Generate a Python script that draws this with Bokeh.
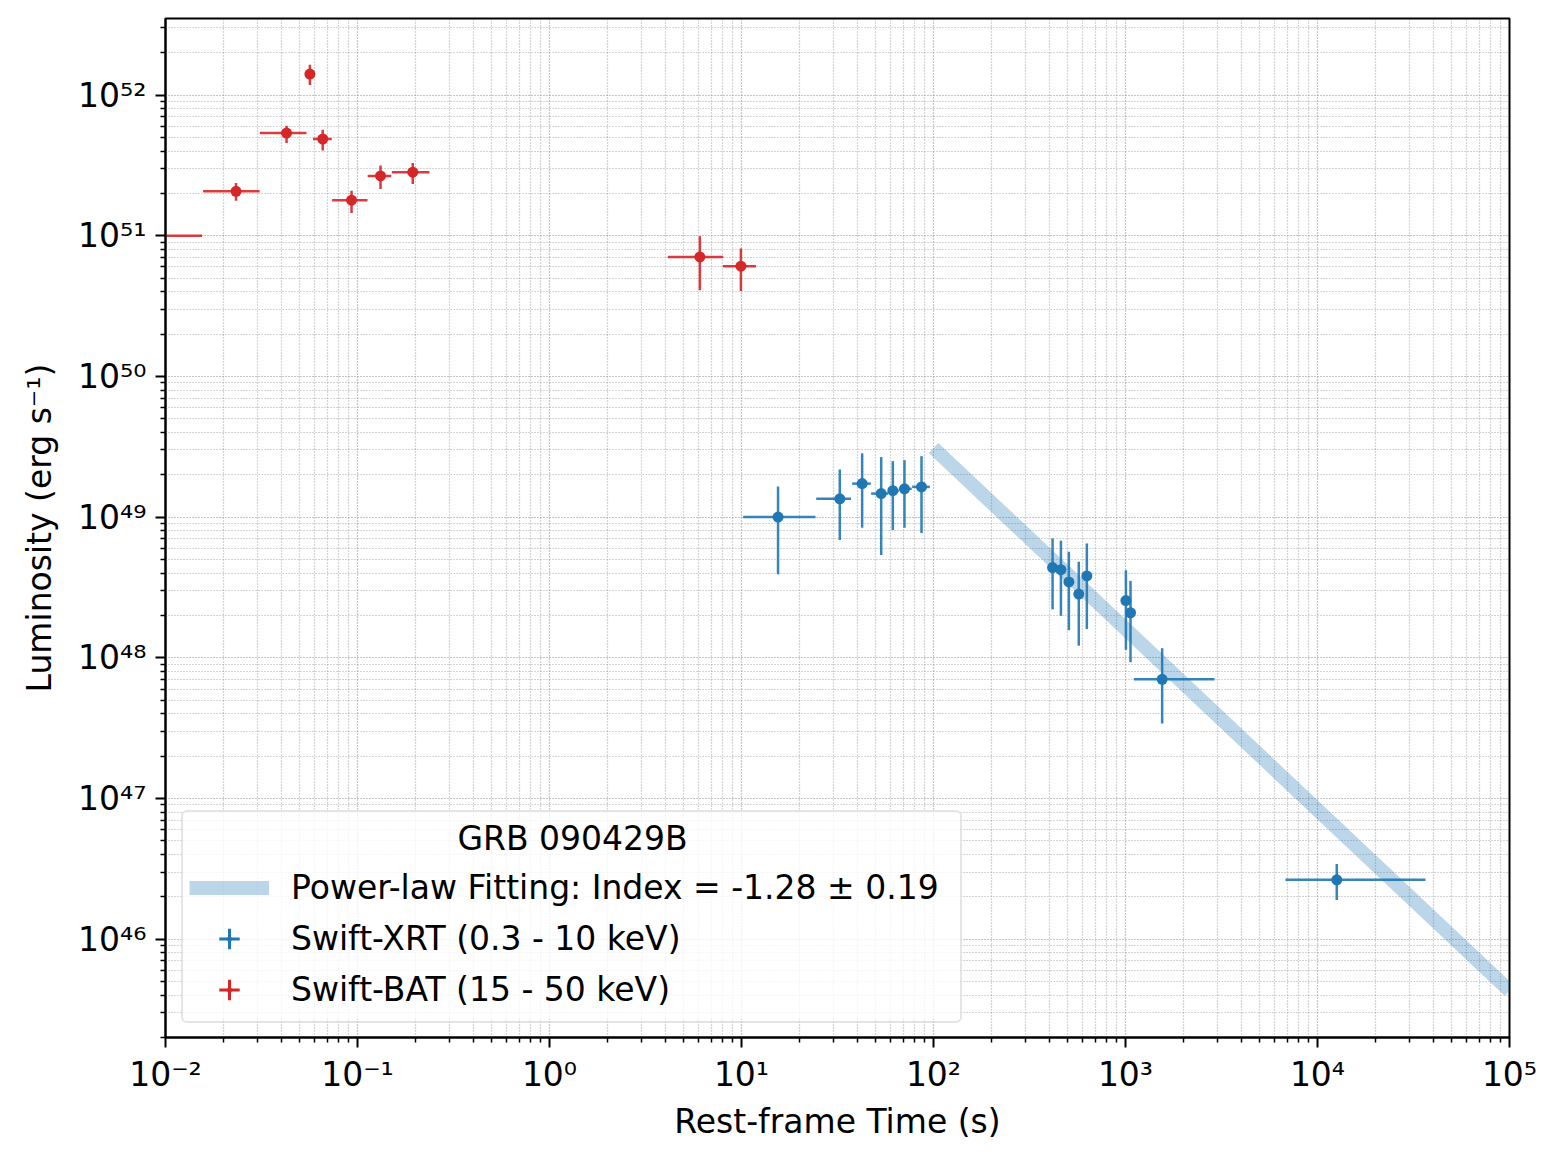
from bokeh.plotting import figure
from bokeh.models import (ColumnDataSource, FixedTicker, CustomJSTickFormatter,
                          Legend, LegendItem, Range1d, Label, BoxAnnotation)
from bokeh.embed import file_html
from bokeh.resources import INLINE

# ---------------- data ----------------
# Swift-BAT (15 - 50 keV)
bat_t    = [0.008, 0.0233, 0.0427, 0.0565, 0.0659, 0.0931, 0.1318, 0.194, 6.07, 9.93]
bat_t_lo = [0.004, 0.0157, 0.0310, 0.0565, 0.0587, 0.0738, 0.1130, 0.151, 4.13, 8.00]
bat_t_hi = [0.0155, 0.0309, 0.0542, 0.0565, 0.0734, 0.1127, 0.1500, 0.237, 8.03, 11.9]
bat_L    = [1.00e51, 2.07e51, 5.37e51, 1.41e52, 4.87e51, 1.79e51, 2.66e51, 2.83e51, 7.07e50, 6.07e50]
bat_L_lo = [7.70e50, 1.77e51, 4.56e51, 1.18e52, 4.03e51, 1.45e51, 2.15e51, 2.33e51, 4.10e50, 4.04e50]
bat_L_hi = [1.25e51, 2.37e51, 6.05e51, 1.64e52, 5.67e51, 2.09e51, 3.15e51, 3.29e51, 9.90e50, 8.10e50]

# Swift-XRT (0.3 - 10 keV)
xrt_t    = [15.5, 32.5, 42.5, 53.4, 61.4, 70.6, 86.6, 417, 461, 507, 571, 629, 1005, 1062, 1552, 12600]
xrt_t_lo = [10.2, 24.5, 37.7, 47.3, 58.0, 66.0, 77.4, 417, 461, 507, 571, 629, 1005, 1062, 1105, 6810]
xrt_t_hi = [24.3, 37.2, 47.2, 58.0, 66.0, 77.0, 95.7, 417, 461, 507, 571, 629, 1005, 1062, 2910, 36500]
xrt_L    = [1.00e49, 1.35e49, 1.73e49, 1.47e49, 1.54e49, 1.59e49, 1.64e49, 4.38e48, 4.23e48,
            3.46e48, 2.84e48, 3.82e48, 2.55e48, 2.09e48, 7.03e47, 2.64e46]
xrt_L_lo = [3.92e48, 6.88e48, 8.41e48, 5.38e48, 8.10e48, 8.40e48, 7.70e48, 2.21e48, 1.99e48,
            1.57e48, 1.22e48, 1.60e48, 1.14e48, 9.30e47, 3.41e47, 1.90e46]
xrt_L_hi = [1.65e49, 2.18e49, 2.84e49, 2.67e49, 2.50e49, 2.54e49, 2.71e49, 7.06e48, 6.80e48,
            5.67e48, 4.82e48, 6.50e48, 4.19e48, 3.52e48, 1.17e48, 3.42e46]

# Power-law fit (end points of the drawn model line)
fit_t = [1.0e2, 1.0e5]
fit_L = [3.1e49, 4.3e45]

x_major = [1e-2, 1e-1, 1e0, 1e1, 1e2, 1e3, 1e4, 1e5]
y_major = [1e46, 1e47, 1e48, 1e49, 1e50, 1e51, 1e52]
x_minor = [m * 10.0 ** k for k in range(-2, 5) for m in range(2, 10)]
y_minor = [m * 10.0 ** k for k in range(45, 53) for m in range(2, 10)]

legend_title = "GRB 090429B"
fit_label = "Power-law Fitting: Index = -1.28 \u00b1 0.19"
xrt_label = "Swift-XRT (0.3 - 10 keV)"
bat_label = "Swift-BAT (15 - 50 keV)"

BLUE = "#1f77b4"
RED = "#d62728"
FONT = "DejaVu Sans"
FS = "33px"

# ---------------- figure ----------------
p = figure(width=1542, height=1143, x_axis_type="log", y_axis_type="log",
           x_range=Range1d(1e-2, 1e5), y_range=Range1d(2.0e45, 3.5e52),
           output_backend="svg", toolbar_location=None,
           min_border_left=165, min_border_right=33, min_border_top=18, min_border_bottom=103)
p.background_fill_color = "white"
p.border_fill_color = "white"
p.outline_line_color = "black"
p.outline_line_width = 2

p.xaxis.ticker = FixedTicker(ticks=x_major, minor_ticks=x_minor)
p.yaxis.ticker = FixedTicker(ticks=y_major, minor_ticks=y_minor)

sup_js = """
const sup = {"-": "\\u207b", "0": "\\u2070", "1": "\\u00b9", "2": "\\u00b2", "3": "\\u00b3",
             "4": "\\u2074", "5": "\\u2075", "6": "\\u2076", "7": "\\u2077", "8": "\\u2078", "9": "\\u2079"};
const e = Math.round(Math.log10(tick));
return "10" + String(e).split("").map(c => sup[c]).join("");
"""
for ax in (p.xaxis, p.yaxis):
    ax.formatter = CustomJSTickFormatter(code=sup_js)
    ax.major_label_text_font = FONT
    ax.major_label_text_font_size = FS
    ax.major_label_text_color = "black"
    ax.axis_label_text_font = FONT
    ax.axis_label_text_font_size = FS
    ax.axis_label_text_font_style = "normal"
    ax.axis_label_text_color = "black"
    ax.axis_line_width = 2
    ax.axis_line_color = "black"
    ax.major_tick_line_width = 2
    ax.major_tick_out = 10
    ax.major_tick_in = 0
    ax.minor_tick_line_width = 1.5
    ax.minor_tick_out = 5
    ax.minor_tick_in = 0

p.xaxis.axis_label = "Rest-frame Time (s)"
p.yaxis.axis_label = "Luminosity (erg s\u207b\u00b9)"
p.xaxis.major_label_standoff = 7
p.yaxis.major_label_standoff = 9
p.xaxis.axis_label_standoff = 5
p.yaxis.axis_label_standoff = 16

for g in (p.xgrid, p.ygrid):
    g.grid_line_color = "gray"
    g.grid_line_alpha = 0.9
    g.grid_line_width = 1.2
    g.grid_line_dash = "1 2"
    g.minor_grid_line_color = "gray"
    g.minor_grid_line_alpha = 0.65
    g.minor_grid_line_width = 1.2
    g.minor_grid_line_dash = "1 2"

# translucent legend background (drawn beneath the legend title text)
box_kw = dict(left=16, right=796, bottom=18, top=228,
              left_units="screen", right_units="screen", top_units="screen", bottom_units="screen",
              fill_color="white", fill_alpha=0.8, line_alpha=0.0, level="underlay")
if "border_radius" in BoxAnnotation.properties():
    box_kw["border_radius"] = 6
p.add_layout(BoxAnnotation(**box_kw))

# ---------------- sources ----------------
bat_src = ColumnDataSource(dict(t=bat_t, tlo=bat_t_lo, thi=bat_t_hi, L=bat_L, Llo=bat_L_lo, Lhi=bat_L_hi))
xrt_src = ColumnDataSource(dict(t=xrt_t, tlo=xrt_t_lo, thi=xrt_t_hi, L=xrt_L, Llo=xrt_L_lo, Lhi=xrt_L_hi))
fit_src = ColumnDataSource(dict(t=fit_t, L=fit_L))

fit_r = p.line("t", "L", source=fit_src, line_color=BLUE, line_alpha=0.3, line_width=14)

for src, col in ((xrt_src, BLUE), (bat_src, RED)):
    p.segment(x0="t", x1="t", y0="Llo", y1="Lhi", source=src, line_color=col, line_width=2.5, line_alpha=0.9)
    p.segment(x0="tlo", x1="thi", y0="L", y1="L", source=src, line_color=col, line_width=2.5, line_alpha=0.9)
    p.scatter("t", "L", source=src, marker="circle", size=11, fill_color=col, line_color=col, line_width=0)

# legend-only glyphs (errorbar icons)
xrt_cross = p.scatter("t", "L", source=xrt_src, marker="cross", line_color=BLUE, line_width=3, visible=False)
xrt_dot = p.scatter("t", "L", source=xrt_src, marker="dot", line_color=BLUE, fill_color=BLUE, visible=False)
bat_cross = p.scatter("t", "L", source=bat_src, marker="cross", line_color=RED, line_width=3, visible=False)
bat_dot = p.scatter("t", "L", source=bat_src, marker="dot", line_color=RED, fill_color=RED, visible=False)

legend = Legend(items=[
    LegendItem(label=fit_label, renderers=[fit_r]),
    LegendItem(label=xrt_label, renderers=[xrt_cross, xrt_dot]),
    LegendItem(label=bat_label, renderers=[bat_cross, bat_dot]),
], location=(16, 14), click_policy="none")
legend.title = "\u00a0"
legend.title_text_font = FONT
legend.title_text_font_size = FS
legend.title_text_font_style = "normal"
legend.title_standoff = 5
legend.label_text_font = FONT
legend.label_text_font_size = FS
legend.label_text_color = "black"
legend.glyph_width = 80
legend.glyph_height = 51
legend.label_height = 51
legend.label_width = 663
legend.label_standoff = 22
legend.spacing = 0
legend.padding = 6
legend.margin = 0
legend.border_line_color = "#cccccc"
legend.border_line_width = 2
legend.background_fill_alpha = 0.0
legend.inactive_fill_alpha = 0.0
if "border_radius" in Legend.properties():
    legend.border_radius = 6
p.add_layout(legend, "center")

title_lbl = Label(x=407, y=199, x_units="screen", y_units="screen", text=legend_title,
                  text_align="center", text_baseline="middle", text_font=FONT,
                  text_font_size=FS, text_color="black", level="overlay")
p.add_layout(title_lbl)

open("out.html", "w").write(file_html(p, INLINE))
